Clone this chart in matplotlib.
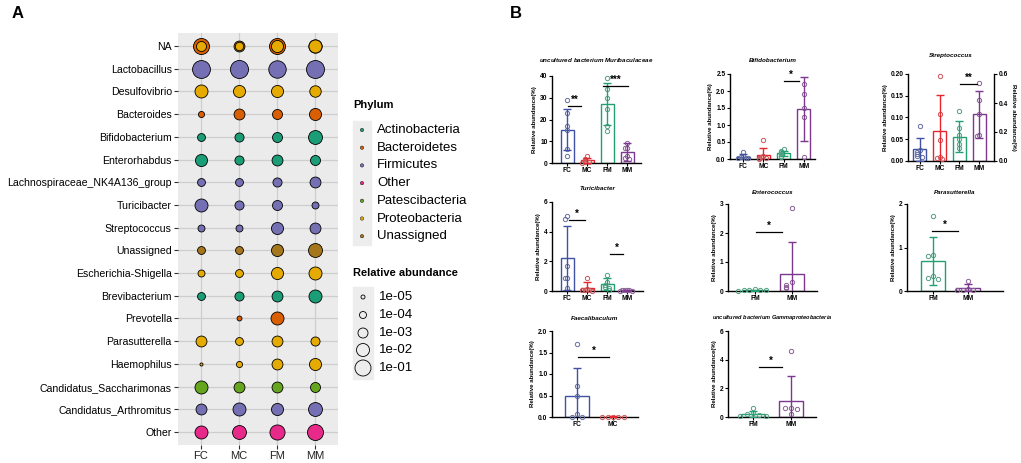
import numpy as np
import matplotlib
import matplotlib.pyplot as plt
from matplotlib.patches import Rectangle
matplotlib.use('Agg')

plt.rcParams['font.family'] = ['Liberation Sans', 'DejaVu Sans']
plt.rcParams['mathtext.fontset'] = 'custom'
plt.rcParams['mathtext.it'] = 'Liberation Sans:italic:bold'
plt.rcParams['mathtext.rm'] = 'Liberation Sans:bold'

# ---------------- panel A data ----------------
groups = ['FC', 'MC', 'FM', 'MM']
genera = ['NA', 'Lactobacillus', 'Desulfovibrio', 'Bacteroides', 'Bifidobacterium',
          'Enterorhabdus', 'Lachnospiraceae_NK4A136_group', 'Turicibacter',
          'Streptococcus', 'Unassigned', 'Escherichia-Shigella', 'Brevibacterium',
          'Prevotella', 'Parasutterella', 'Haemophilus', 'Candidatus_Saccharimonas',
          'Candidatus_Arthromitus', 'Other']
genus_phylum = [None, 'Firmicutes', 'Proteobacteria', 'Bacteroidetes', 'Actinobacteria',
                'Actinobacteria', 'Firmicutes', 'Firmicutes', 'Firmicutes', 'Unassigned',
                'Proteobacteria', 'Actinobacteria', 'Bacteroidetes', 'Proteobacteria',
                'Proteobacteria', 'Patescibacteria', 'Firmicutes', 'Other']
abundance = [
    None,
    [0.42, 0.48, 0.30, 0.45],
    [1e-2, 5e-3, 5e-3, 3e-3],
    [5e-5, 2e-3, 1e-3, 5e-3],
    [2e-4, 5e-4, 1e-3, 2e-2],
    [5e-3, 5e-4, 2e-3, 1e-3],
    [2e-4, 2e-4, 5e-4, 2e-3],
    [1e-2, 5e-4, 1e-3, 1e-4],
    [1e-4, 1e-4, 5e-3, 2e-3],
    [2e-4, 2e-4, 5e-3, 2e-2],
    [1e-4, 2e-4, 5e-3, 1e-2],
    [2e-4, 5e-4, 2e-3, 1e-2],
    [None, 2e-5, 1e-2, None],
    [2e-3, 2e-4, 2e-3, 5e-4],
    [5e-6, 5e-5, 2e-3, 5e-3],
    [1e-2, 2e-3, 2e-3, 1e-3],
    [2e-3, 1e-2, 5e-3, 2e-2],
    [1e-2, 2e-2, 5e-2, 0.1],
]
# the NA row is shared by several phyla
na_phyla = ['Bacteroidetes', 'Unassigned', 'Proteobacteria']
na_abundance = [[0.1, None, 0.1, None],
                [None, 2e-3, None, 1.3e-2],
                [1e-3, 3e-4, 5e-3, 1e-2]]

phyla = ['Actinobacteria', 'Bacteroidetes', 'Firmicutes', 'Other',
         'Patescibacteria', 'Proteobacteria', 'Unassigned']
phylum_colors = ['#1B9E77', '#D95F02', '#7570B3', '#E7298A', '#66A61E', '#E6AB02', '#A6761D']
size_breaks = [1e-5, 1e-4, 1e-3, 1e-2, 1e-1]
size_labels = ['1e-05', '1e-04', '1e-03', '1e-02', '1e-01']

# ---------------- panel B data ----------------
grp_colors = {'FC': '#3f51a3', 'MC': '#e6262c', 'FM': '#23a071', 'MM': '#7c378f'}

muri_groups = ['FC', 'MC', 'FM', 'MM']
muri_mean = [15.3, 1.2, 27.1, 5.1]
muri_sd = [9.5, 1.3, 9.7, 4.1]
muri_pts = [[29, 23, 17, 15.2, 6.4, 3.2], [3.0, 2.0, 1.0, 0.5, 0.3, 0.1],
            [39, 34, 30, 25, 17, 14.7], [9.0, 7.0, 6.9, 3.0, 2.5, 2.0]]
muri_sig = [(0.05, 0.7, 26.2, '**'), (1.8, 3.05, 35.4, '***')]

bifi_groups = ['FC', 'MC', 'FM', 'MM']
bifi_mean = [0.07, 0.12, 0.17, 1.47]
bifi_sd = [0.09, 0.21, 0.08, 0.94]
bifi_pts = [[0.22, 0.1, 0.06, 0.04, 0.03, 0.02], [0.56, 0.1, 0.05, 0.03, 0.02, 0.01],
            [0.3, 0.25, 0.2, 0.15, 0.1, 0.05], [2.2, 1.91, 1.5, 1.24, 0.06]]
bifi_sig = [(2.0, 2.75, 2.3, '*')]

strep_groups = ['FC', 'MC', 'FM', 'MM']
strep_mean = [0.027, 0.069, 0.056, 0.107]
strep_sd = [0.026, 0.082, 0.035, 0.053]
strep_pts = [[0.08, 0.025, 0.02, 0.015, 0.012, 0.01], [0.195, 0.108, 0.048, 0.01, 0.008, 0.005],
             [0.115, 0.075, 0.06, 0.05, 0.04, 0.03], [0.18, 0.14, 0.107, 0.06, 0.058]]
strep_sig = [(2.05, 2.9, 0.177, '**')]

turi_groups = ['FC', 'MC', 'FM', 'MM']
turi_mean = [2.23, 0.2, 0.47, 0.05]
turi_sd = [2.14, 0.4, 0.4, 0.04]
turi_pts = [[5.05, 4.85, 1.7, 0.9, 0.85, 0.2], [0.85, 0.15, 0.1, 0.05, 0.05, 0.02],
            [1.1, 0.6, 0.4, 0.3, 0.2, 0.1], [0.08, 0.06, 0.05, 0.04, 0.03, 0.02]]
turi_sig = [(0.1, 0.9, 4.8, '*'), (2.15, 2.8, 2.5, '*')]

ent_groups = ['FM', 'MM']
ent_mean = [0.03, 0.59]
ent_sd = [0.02, 1.11]
ent_pts = [[0.06, 0.04, 0.03, 0.02, 0.02, 0.01], [2.86, 0.3, 0.22, 0.15, 0.1]]
ent_sig = [(0.03, 0.73, 2.03, '*')]

para_groups = ['FM', 'MM']
para_mean = [0.69, 0.07]
para_sd = [0.56, 0.08]
para_pts = [[1.72, 0.82, 0.8, 0.35, 0.3, 0.28], [0.22, 0.05, 0.03, 0.02, 0.02]]
para_sig = [(-0.03, 0.71, 1.38, '*')]

faec_groups = ['FC', 'MC']
faec_mean = [0.48, 0.01]
faec_sd = [0.66, 0.005]
faec_pts = [[1.69, 0.72, 0.48, 0.07, 0.01, 0.01], [0.01, 0.01, 0.01, 0.01, 0.01]]
faec_sig = [(0.03, 0.89, 1.4, '*')]

gam_groups = ['FM', 'MM']
gam_mean = [0.2, 1.12]
gam_sd = [0.2, 1.75]
gam_pts = [[0.63, 0.25, 0.2, 0.15, 0.1, 0.05], [4.6, 0.65, 0.6, 0.58, 0.2]]
gam_sig = [(0.16, 0.76, 3.5, '*')]

W, H = 1021, 463
fig = plt.figure(figsize=(W / 100, H / 100), dpi=100)


def px_box(l, t, r, b):
    return [l / W, 1 - b / H, (r - l) / W, (b - t) / H]


def dot_size(a):
    d = 4 + 3 * (np.log10(a) + 5)
    return (d * 0.72) ** 2


# overlay axes in pixel coordinates for legend, labels and titles
ov = fig.add_axes([0, 0, 1, 1])
ov.set_xlim(0, W)
ov.set_ylim(H, 0)
ov.axis('off')
ov.patch.set_alpha(0)

ov.text(12, 14, 'A', fontsize=12, fontweight='bold', va='center', ha='left')
ov.text(510, 14, 'B', fontsize=12, fontweight='bold', va='center', ha='left')

# ---------------- panel A ----------------
axA = fig.add_axes(px_box(178, 33, 338, 445))
axA.set_facecolor('#EBEBEB')
axA.set_xlim(-0.6, 3.6)
axA.set_ylim(len(genera) - 1 + 0.57, -0.57)
for i in range(len(genera)):
    axA.axhline(i, color='#CDCDCD', lw=0.9, zorder=0)
for j in range(len(groups)):
    axA.axvline(j, color='#CDCDCD', lw=0.9, zorder=0)
for s in axA.spines.values():
    s.set_visible(False)

pcol = dict(zip(phyla, phylum_colors))
for j in range(len(groups)):
    layers = [(v[j], p) for p, v in zip(na_phyla, na_abundance) if v[j] is not None]
    layers.sort(reverse=True)
    for v, p in layers:
        axA.scatter(j, 0, s=dot_size(v), color=pcol[p], edgecolors='black', linewidths=0.6, zorder=3)
for i in range(1, len(genera)):
    for j in range(len(groups)):
        v = abundance[i][j]
        if v is None:
            continue
        axA.scatter(j, i, s=dot_size(v), color=pcol[genus_phylum[i]], edgecolors='black',
                    linewidths=0.6, zorder=3)

axA.set_xticks(range(len(groups)))
axA.set_xticklabels(groups)
axA.set_yticks(range(len(genera)))
axA.set_yticklabels(genera)
axA.tick_params(axis='y', length=3, width=0.8, color='#333333', labelsize=7.6, pad=1.5)
axA.tick_params(axis='x', length=3, width=0.8, color='#333333', labelsize=8, pad=1.5,
                labelcolor='#222222')

# legends
ov.text(353, 105, 'Phylum', fontsize=8, fontweight='bold', va='center')
ov.add_patch(Rectangle((353, 121), 18, 124, color='#EDEDED', zorder=0))
leg_y = [130 + 17.7 * k for k in range(len(phyla))]
ov.scatter([362] * len(phyla), leg_y, s=(3.4 * 0.72) ** 2, c=phylum_colors,
           edgecolors='black', linewidths=0.3, zorder=2)
for y, name in zip(leg_y, phyla):
    ov.text(377, y, name, fontsize=9.5, va='center')

ov.text(353, 273, 'Relative abundance', fontsize=8, fontweight='bold', va='center')
ov.add_patch(Rectangle((353, 287), 20, 92, color='#EDEDED', zorder=0))
size_y = [297, 315, 333, 350, 368]
for y, b, lab in zip(size_y, size_breaks, size_labels):
    ov.scatter(363, y, s=dot_size(b), facecolors='none', edgecolors='black', linewidths=0.6, zorder=2)
    ov.text(379, y, lab, fontsize=9.5, va='center')


# ---------------- panel B ----------------
def lighten(c, f=0.4):
    rgb = np.array(matplotlib.colors.to_rgb(c))
    grey = np.array([0.62, 0.62, 0.62])
    return tuple(rgb * (1 - f) + grey * f)


def bold_ticks(ax):
    for lbl in ax.get_xticklabels() + ax.get_yticklabels():
        lbl.set_fontweight('bold')


def bar_chart(box, grp, means, sds, pts, sig, ymax, yticks, ytlabels, xlim, width,
              title, title_y, title_size=4.5, spread=0.12):
    ax = fig.add_axes(px_box(*box))
    ax.patch.set_alpha(0)
    x = np.arange(len(grp))
    cols = [grp_colors[g] for g in grp]
    ax.bar(x, means, width=width, facecolor='none', edgecolor=cols, linewidth=1.0, zorder=2)
    tol = 0.035 * ymax
    for i, vals in enumerate(pts):
        placed = []
        for v in sorted(vals, reverse=True):
            n = sum(1 for p in placed if abs(p - v) < tol)
            off = [0, -1, 1, -2, 2, -3, 3][n] * spread
            placed.append(v)
            ax.plot(i + off, v, 'o', mfc='none', mec=lighten(cols[i]), ms=3.1, mew=0.7,
                    zorder=3, clip_on=False)
        ax.errorbar(i, means[i], yerr=sds[i], fmt='none', ecolor=cols[i], elinewidth=1.0,
                    capsize=2.9, capthick=1.0, zorder=4)
    for x1, x2, y, lab in sig:
        ax.plot([x1, x2], [y, y], color='black', lw=0.9, clip_on=False, zorder=5)
        ax.text((x1 + x2) / 2, y + ymax * 0.01, lab, ha='center', va='bottom', fontsize=7,
                fontweight='bold')
    ax.set_xlim(*xlim)
    ax.set_ylim(0, ymax)
    ax.set_xticks(x)
    ax.set_xticklabels(grp)
    ax.set_yticks(yticks)
    ax.set_yticklabels(ytlabels)
    ax.spines[['top', 'right']].set_visible(False)
    ax.spines['left'].set_linewidth(1.0)
    ax.spines['bottom'].set_linewidth(1.0)
    ax.tick_params(labelsize=4.8, width=0.8, length=2.2, pad=1)
    ax.set_ylabel('Relative abundance(%)', fontsize=4.4, fontweight='bold', labelpad=2)
    bold_ticks(ax)
    ov.text((box[0] + box[2]) / 2, title_y, title, ha='center', va='center',
            fontsize=title_size, fontweight='bold', style='italic')
    return ax


bar_chart((552, 76, 641, 163), muri_groups, muri_mean, muri_sd, muri_pts, muri_sig, 40,
          [0, 10, 20, 30, 40], ['0', '10', '20', '30', '40'], (-0.75, 3.7), 0.65,
          'uncultured bacterium $\\mathit{Muribaculaceae}$', 60)
bar_chart((730, 74, 815, 159), bifi_groups, bifi_mean, bifi_sd, bifi_pts, bifi_sig, 2.5,
          [0, 0.5, 1.0, 1.5, 2.0, 2.5], ['0.0', '0.5', '1.0', '1.5', '2.0', '2.5'],
          (-0.65, 3.55), 0.65, 'Bifidobacterium', 61)
axS = bar_chart((908, 74, 994, 161), strep_groups, strep_mean, strep_sd, strep_pts, strep_sig, 0.2,
                [0, 0.05, 0.10, 0.15, 0.20], ['0.00', '0.05', '0.10', '0.15', '0.20'],
                (-0.6, 3.75), 0.65, 'Streptococcus', 56)
axS2 = axS.twinx()
axS2.set_ylim(0, 0.6)
axS2.set_yticks([0, 0.2, 0.4, 0.6])
axS2.set_yticklabels(['0.0', '0.2', '0.4', '0.6'])
axS2.spines[['top', 'left', 'bottom']].set_visible(False)
axS2.spines['right'].set_linewidth(1.0)
axS2.tick_params(labelsize=4.8, width=0.8, length=2.2, pad=1)
axS2.set_ylabel('Relative abundance(%)', fontsize=4.4, fontweight='bold', rotation=270, labelpad=6)
bold_ticks(axS2)

bar_chart((552, 202, 643, 291), turi_groups, turi_mean, turi_sd, turi_pts, turi_sig, 6,
          [0, 2, 4, 6], ['0', '2', '4', '6'], (-0.75, 3.8), 0.65, 'Turicibacter', 189)
bar_chart((728, 204, 817, 291), ent_groups, ent_mean, ent_sd, ent_pts, ent_sig, 3,
          [0, 1, 2, 3], ['0', '1', '2', '3'], (-0.73, 1.68), 0.65, 'Enterococcus', 193,
          spread=0.15)
bar_chart((907, 204, 1003, 291), para_groups, para_mean, para_sd, para_pts, para_sig, 2,
          [0, 1, 2], ['0', '1', '2'], (-0.74, 2.0), 0.7, 'Parasutterella', 193, spread=0.15)
bar_chart((552, 331, 638, 417), faec_groups, faec_mean, faec_sd, faec_pts, faec_sig, 2.0,
          [0, 0.5, 1.0, 1.5, 2.0], ['0.0', '0.5', '1.0', '1.5', '2.0'], (-0.69, 1.69), 0.65,
          'Faecalibaculum', 319, spread=0.15)
bar_chart((728, 331, 816, 417), gam_groups, gam_mean, gam_sd, gam_pts, gam_sig, 6,
          [0, 2, 4, 6], ['0', '2', '4', '6'], (-0.66, 1.66), 0.65,
          'uncultured bacterium $\\mathit{Gammaproteobacteria}$', 317, title_size=4.1,
          spread=0.17)

fig.savefig('out.png', dpi=100)
